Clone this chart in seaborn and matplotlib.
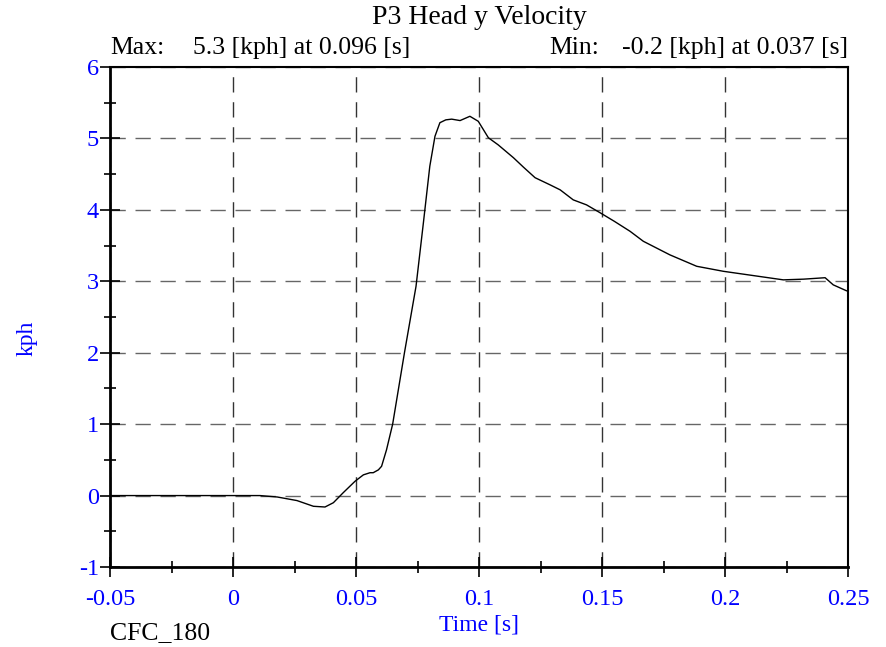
import numpy as np
import matplotlib
matplotlib.use("Agg")
import matplotlib.pyplot as plt
import seaborn as sns
from matplotlib.ticker import MultipleLocator

# values
time_s = [-0.05, -0.03, -0.01, 0.0, 0.011, 0.018, 0.026, 0.0327, 0.0374, 0.0408,
          0.0448, 0.0496, 0.053, 0.0557, 0.057, 0.0591, 0.0604, 0.0624, 0.0649,
          0.0697, 0.0744, 0.0774, 0.080, 0.0821, 0.0841, 0.0865, 0.0889, 0.0923,
          0.0963, 0.0997, 0.1038, 0.1078, 0.114, 0.118, 0.1228, 0.1289, 0.133,
          0.1383, 0.1437, 0.1492, 0.155, 0.1614, 0.1668, 0.1776, 0.1885, 0.1993,
          0.2115, 0.2237, 0.2320, 0.2407, 0.244, 0.2492, 0.25]
vel_kph = [0.0, 0.0, 0.0, 0.0, 0.0, -0.02, -0.07, -0.15, -0.16, -0.10,
           0.04, 0.20, 0.29, 0.32, 0.32, 0.36, 0.41, 0.64, 1.0,
           2.0, 2.93, 3.82, 4.61, 5.03, 5.22, 5.26, 5.27, 5.25,
           5.31, 5.24, 5.01, 4.91, 4.73, 4.60, 4.45, 4.35, 4.28,
           4.14, 4.07, 3.96, 3.84, 3.70, 3.56, 3.37, 3.21, 3.14,
           3.08, 3.02, 3.03, 3.05, 2.95, 2.87, 2.86]

x_ticks = [-0.05, 0, 0.05, 0.1, 0.15, 0.2, 0.25]
x_labels = ["-0.05", "0", "0.05", "0.1", "0.15", "0.2", "0.25"]
y_ticks = [-1, 0, 1, 2, 3, 4, 5, 6]
y_labels = ["-1", "0", "1", "2", "3", "4", "5", "6"]

sns.set_style("white")
plt.rcParams["font.family"] = ["Liberation Serif", "DejaVu Serif"]
plt.rcParams["text.color"] = "black"

fig = plt.figure(figsize=(8.86, 6.47), dpi=100)
ax = fig.add_axes([110 / 886, 1 - 567 / 647, 738 / 886, 500 / 647])

sns.lineplot(x=time_s, y=vel_kph, ax=ax, color="black", linewidth=1.0)

ax.set_xlim(-0.05, 0.25)
ax.set_ylim(-1, 6)
ax.set_xticks(x_ticks)
ax.set_xticklabels(x_labels)
ax.set_yticks(y_ticks)
ax.set_yticklabels(y_labels)
ax.xaxis.set_minor_locator(MultipleLocator(0.025))
ax.yaxis.set_minor_locator(MultipleLocator(0.5))

ax.xaxis.grid(True, which="major", color="#333333", linestyle=(0, (11, 7)), linewidth=1.0)
ax.yaxis.grid(True, which="major", color="#666666", linestyle=(0, (11, 7)), linewidth=1.0)

ax.tick_params(axis="both", which="both", bottom=True, left=True, top=False, right=False)
ax.tick_params(axis="both", which="major", direction="inout", length=14,
               width=1.2, colors="black", labelcolor="blue", labelsize=17.5)
ax.tick_params(axis="both", which="minor", direction="inout", length=9,
               width=1.2, colors="black")
ax.tick_params(axis="x", pad=9)
ax.tick_params(axis="y", pad=1)

for side in ["left", "bottom"]:
    ax.spines[side].set_linewidth(2.0)
for side in ["top", "right"]:
    ax.spines[side].set_linewidth(1.5)
for sp in ax.spines.values():
    sp.set_color("black")

ax.set_xlabel("Time [s]", color="blue", fontsize=17)
ax.set_ylabel("kph", color="blue", fontsize=17)
ax.xaxis.set_label_coords(0.5, -(625 - 567) / 500, transform=ax.transAxes)
ax.xaxis.label.set_va("center")
ax.yaxis.set_label_coords(-(110 - 27) / 738, (567 - 338) / 500, transform=ax.transAxes)
ax.yaxis.label.set_va("center")

fig.text(479 / 886, 1 - 18 / 647, "P3 Head y Velocity", ha="center", va="center", fontsize=20)
fig.text(110 / 886, 1 - 48 / 647, "Max:", ha="left", va="center", fontsize=18.5)
fig.text(193 / 886, 1 - 48 / 647, "5.3 [kph] at 0.096 [s]", ha="left", va="center", fontsize=18.5)
fig.text(549 / 886, 1 - 48 / 647, "Min:", ha="left", va="center", fontsize=18.5)
fig.text(848 / 886, 1 - 48 / 647, "-0.2 [kph] at 0.037 [s]", ha="right", va="center", fontsize=18.5)
fig.text(110 / 886, 1 - 633 / 647, "CFC_180", ha="left", va="center", fontsize=18.5)

fig.savefig("out.png", dpi=100)
